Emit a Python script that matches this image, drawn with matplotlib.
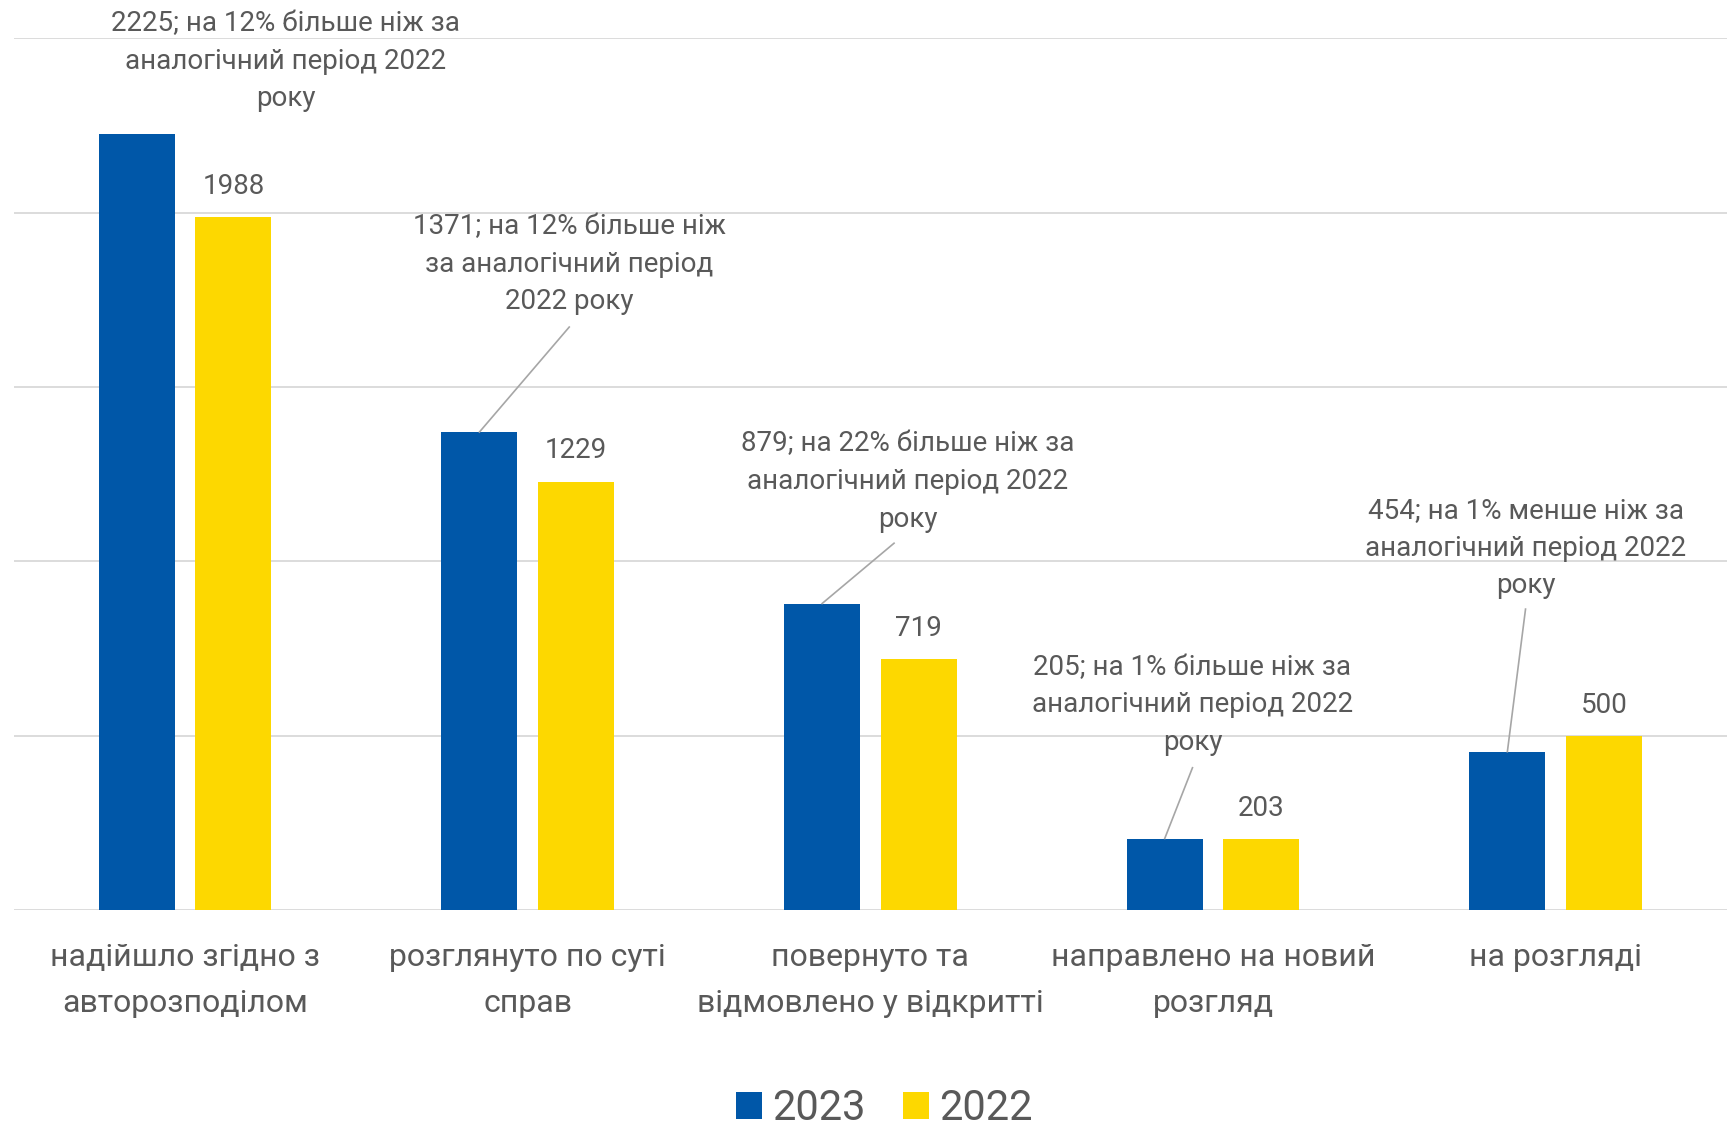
import matplotlib
matplotlib.use("Agg")
import matplotlib.pyplot as plt
import numpy as np

categories = ["надійшло згідно з\nавторозподілом", "розглянуто по суті\nсправ",
              "повернуто та\nвідмовлено у відкритті", "направлено на новий\nрозгляд",
              "на розгляді"]
vals_2023 = [2225, 1371, 879, 205, 454]
vals_2022 = [1988, 1229, 719, 203, 500]
notes_2023 = ["2225; на 12% більше ніж за\nаналогічний період 2022\nроку",
              "1371; на 12% більше ніж\nза аналогічний період\n2022 року",
              "879; на 22% більше ніж за\nаналогічний період 2022\nроку",
              "205; на 1% більше ніж за\nаналогічний період 2022\nроку",
              "454; на 1% менше ніж за\nаналогічний період 2022\nроку"]

plt.rcParams['font.family'] = ['Roboto', 'DejaVu Sans']
grey = '#595959'
blue = '#0057a8'
yellow = '#fdd800'

fig = plt.figure(figsize=(17.27, 11.29), dpi=100)
ax = fig.add_axes([0.008, 0.194, 0.992, 0.772])

x = np.arange(len(categories))
width = 0.222
off = 0.141
ax.bar(x - off, vals_2023, width, color=blue, label='2023', zorder=3)
ax.bar(x + off, vals_2022, width, color=yellow, label='2022', zorder=3)

ax.set_xlim(-0.5, 4.5)
ax.set_ylim(0, 2500)
ax.set_yticks(np.arange(0, 2501, 500))
ax.yaxis.grid(True, color='#d9d9d9', lw=1.3, zorder=0)
ax.tick_params(left=False, labelleft=False, bottom=False, labelbottom=False)
for s in ax.spines.values():
    s.set_visible(False)

# category labels
for i, c in enumerate(categories):
    ax.text(i, -95, c, ha='center', va='top', fontsize=23, color=grey,
            linespacing=1.72)

# 2022 value labels
for i, v in enumerate(vals_2022):
    ax.annotate(str(v), (i + off, v), xytext=(0, 22), textcoords='offset points',
                ha='center', va='center', fontsize=20, color=grey)

# 2023 callouts (text centre, leader end)
note_pos = [(0.294, 2434), (1.121, 1852), (2.108, 1229), (2.940, 588), (3.912, 1037)]
leader_end = [None, (1.121, 1672), (2.069, 1052), (2.940, 408), (3.912, 863)]
for i, (v, t) in enumerate(zip(vals_2023, notes_2023)):
    tx, ty = note_pos[i]
    ax.text(tx, ty, t, ha='center', va='center', fontsize=20, color=grey,
            linespacing=1.5, clip_on=False)
    if leader_end[i] is not None:
        ax.plot([i - off, leader_end[i][0]], [v, leader_end[i][1]],
                color='#a6a6a6', lw=1.2, zorder=4, clip_on=False)

leg = fig.legend(loc='center', bbox_to_anchor=(0.512, 0.018), ncol=2, frameon=False,
                 fontsize=30, handlelength=0.62, handleheight=0.62,
                 handletextpad=0.25, columnspacing=0.9)
for t in leg.get_texts():
    t.set_color(grey)

fig.savefig('out.png', dpi=100)
